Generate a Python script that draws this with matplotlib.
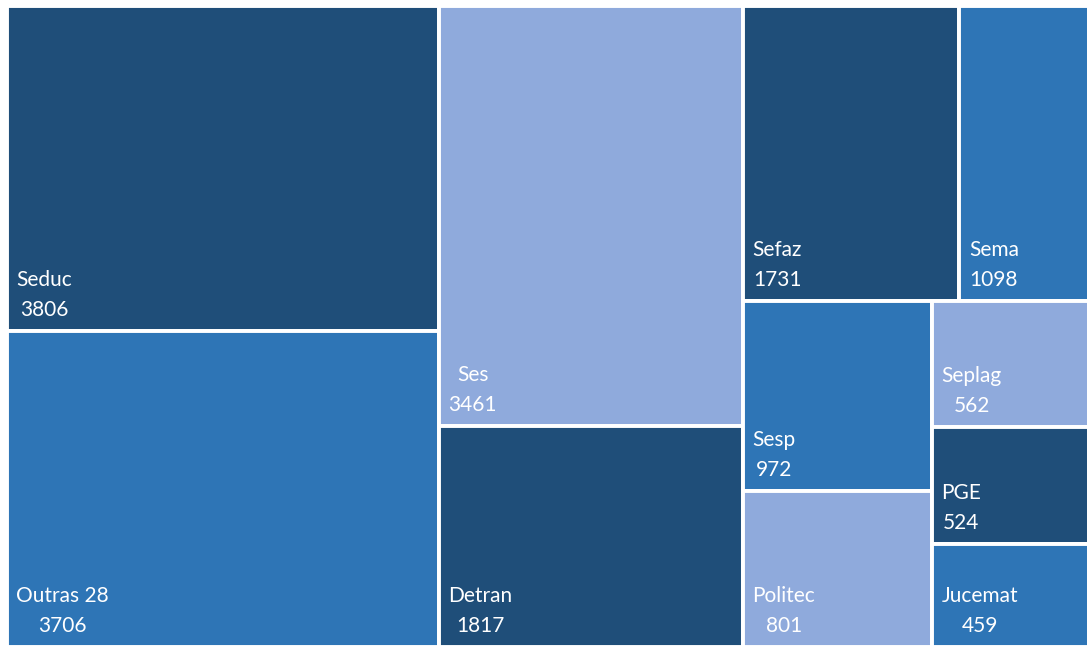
import matplotlib
matplotlib.use("Agg")
import matplotlib.pyplot as plt
from matplotlib.patches import Rectangle

# data
names = ["Seduc", "Outras 28", "Ses", "Detran", "Sefaz", "Sema",
         "Sesp", "Politec", "Seplag", "PGE", "Jucemat"]
values = [3806, 3706, 3461, 1817, 1731, 1098, 972, 801, 562, 524, 459]
shades = ["dark", "mid", "light", "dark", "dark", "mid",
          "mid", "light", "light", "dark", "mid"]

palette = {"dark": "#1F4E79", "mid": "#2E75B6", "light": "#8FAADC"}

# nesting of the treemap: ("h", ...) splits side by side, ("v", ...) stacks
tree = ("h",
        ("v", 0, 1),
        ("v", 2, 3),
        ("v",
         ("h", 4, 5),
         ("h",
          ("v", 6, 7),
          ("v", 8, 9, 10))))


def total(node):
    if isinstance(node, int):
        return values[node]
    return sum(total(c) for c in node[1:])


def layout(node, x, y, w, h, out):
    if isinstance(node, int):
        out[node] = (x, y, w, h)
        return
    s = total(node)
    pos = 0.0
    for child in node[1:]:
        frac = total(child) / s
        if node[0] == "h":
            layout(child, x + pos * w, y, frac * w, h, out)
        else:
            layout(child, x, y + pos * h, w, frac * h, out)
        pos += frac


W, H = 1090.0, 641.0
rects = {}
layout(tree, 0, 0, W, H, rects)

fig = plt.figure(figsize=(10.87, 6.46), dpi=100)
ax = fig.add_axes([6.5 / 1087, 1 - 647 / 646, W / 1087, H / 646])
ax.set_xlim(0, W)
ax.set_ylim(H, 0)
ax.axis("off")

for i, (x, y, w, h) in rects.items():
    ax.add_patch(Rectangle((x, y), w, h, facecolor=palette[shades[i]],
                           edgecolor="white", linewidth=2.8))
    ax.annotate(f"{names[i]}\n{values[i]}", xy=(x, y + h), xytext=(7, 8),
                textcoords="offset points", ha="left", va="bottom",
                multialignment="center", color="white", fontsize=15,
                family=["Lato", "DejaVu Sans"], linespacing=1.62)

fig.savefig("out.png", dpi=100)
